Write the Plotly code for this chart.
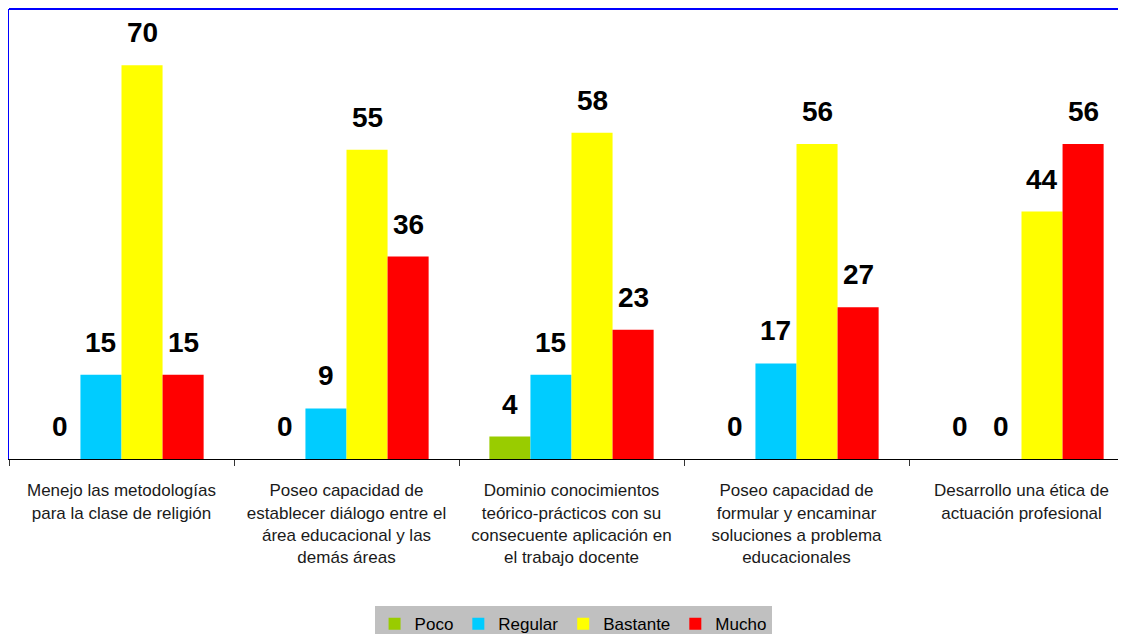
import plotly.graph_objects as go

categories = [
    "Menejo las metodologías<br>para la clase de religión",
    "Poseo capacidad de<br>establecer diálogo entre el<br>área educacional y las<br>demás áreas",
    "Dominio conocimientos<br>teórico-prácticos con su<br>consecuente aplicación en<br>el trabajo docente",
    "Poseo capacidad de<br>formular y encaminar<br>soluciones a problema<br>educacionales",
    "Desarrollo una ética de<br>actuación profesional",
]
series_names = ["Poco", "Regular", "Bastante", "Mucho"]
poco = [0, 0, 4, 0, 0]
regular = [15, 9, 15, 17, 0]
bastante = [70, 55, 58, 56, 44]
mucho = [15, 36, 23, 27, 56]
colors = ["#99cc00", "#00ccff", "#ffff00", "#ff0000"]

values = [poco, regular, bastante, mucho]

# page body has an 8px default margin, so the figure starts at (8, 8)
W, H = 1118, 626
ml, mr, mt, mb = 1, 0, 1, 175
bargap = 0.27
cat_px = 225.0
x_end = -0.5 + (W - ml - mr) / cat_px
bar_px = cat_px * (1 - bargap) / len(series_names)

fig = go.Figure()
for name, vals, col in zip(series_names, values, colors):
    fig.add_trace(go.Bar(name=name, x=categories, y=vals, marker=dict(color=col, line=dict(width=0))))

annotations = []
for i, vals in enumerate(values):
    for j, v in enumerate(vals):
        annotations.append(dict(
            x=categories[j], y=v, xref="x", yref="y",
            text=str(v), showarrow=False,
            xshift=(i - 1.5) * bar_px, yshift=15, yanchor="bottom",
            font=dict(family="Liberation Sans, Arial", size=28, color="#000000", weight="bold"),
        ))

fig.update_layout(
    width=W, height=H,
    margin=dict(l=ml, r=mr, t=mt, b=mb, pad=0, autoexpand=False),
    paper_bgcolor="white", plot_bgcolor="white",
    barmode="group", bargap=bargap, bargroupgap=0,
    font=dict(family="Liberation Sans, Arial", size=17, color="#1a1a1a"),
    annotations=annotations,
    showlegend=True,
    legend=dict(orientation="h", x=0.505, xanchor="center", y=-0.327, yanchor="top",
                bgcolor="#c0c0c0", font=dict(size=17, color="#000000"),
                itemwidth=30, traceorder="normal"),
    shapes=[
        dict(type="line", xref="paper", yref="paper", x0=0, x1=1, y0=1, y1=1,
             line=dict(color="#0000ff", width=2)),
    ],
)
fig.update_xaxes(
    range=[-0.5, x_end], showline=True, linecolor="#000000", linewidth=1,
    ticks="outside", tickson="boundaries", ticklen=6, tickcolor="#333333",
    ticklabelstandoff=16,
    showgrid=False, tickfont=dict(size=17, color="#1a1a1a"),
)
fig.update_yaxes(
    range=[0, 80], showline=True, linecolor="#0000ff", linewidth=1.5,
    showgrid=False, zeroline=False, showticklabels=False, ticks="",
)

fig.write_html("out.html")
